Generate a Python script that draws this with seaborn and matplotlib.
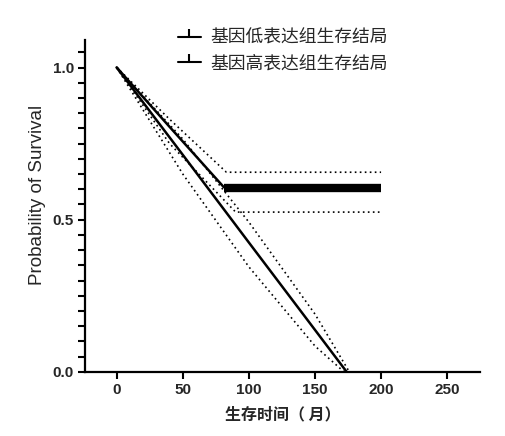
import numpy as np
import pandas as pd
import seaborn as sns
import matplotlib
matplotlib.use("Agg")
import matplotlib.pyplot as plt
from matplotlib.lines import Line2D
from matplotlib.ticker import MultipleLocator

# survival curves (time in months, survival fraction)
low_t = [0, 40, 81]
low_s = [1.0, 0.805, 0.607]
low_up_t = [0, 40, 83, 200]
low_up_s = [1.0, 0.83, 0.656, 0.656]
low_lo_t = [0, 40, 90, 200]
low_lo_s = [1.0, 0.75, 0.525, 0.525]
low_censor = [81, 200]          # span covered by censor ticks
low_censor_s = 0.605

high_t = [0, 50, 100, 150, 174]
high_s = [1.0, 0.713, 0.425, 0.138, 0.0]
high_up_t = [0, 50, 100, 150, 176]
high_up_s = [1.0, 0.765, 0.492, 0.19, 0.0]
high_lo_t = [0, 50, 100, 150, 172]
high_lo_s = [1.0, 0.65, 0.345, 0.085, 0.0]

labels = ["基因低表达组生存结局", "基因高表达组生存结局"]
xticks = [0, 50, 100, 150, 200, 250]
yticks = [0.0, 0.5, 1.0]

sns.set_style("ticks")
plt.rcParams['font.family'] = ['Liberation Sans', 'Noto Sans CJK SC', 'DejaVu Sans']

fig = plt.figure(figsize=(5.06, 4.36), dpi=100)
ax = fig.add_axes([0.168, 0.147, 0.781, 0.761])

dot = (0, (1, 2))
sns.lineplot(x=low_up_t, y=low_up_s, color='black', lw=1.2, linestyle=dot, ax=ax)
sns.lineplot(x=low_lo_t, y=low_lo_s, color='black', lw=1.2, linestyle=dot, ax=ax)
sns.lineplot(x=high_up_t, y=high_up_s, color='black', lw=1.2, linestyle=dot, ax=ax)
sns.lineplot(x=high_lo_t, y=high_lo_s, color='black', lw=1.2, linestyle=dot, ax=ax)
sns.lineplot(x=low_t, y=low_s, color='black', lw=1.8, ax=ax)
sns.lineplot(x=high_t, y=high_s, color='black', lw=1.8, ax=ax)
# dense censor ticks form a thick bar
sns.lineplot(x=low_censor, y=[low_censor_s] * 2, color='black', lw=6,
             solid_capstyle='butt', ax=ax)

ax.set_xlim(-24, 275)
ax.set_ylim(0, 1.09)
ax.set_xticks(xticks)
ax.set_yticks(yticks)
ax.set_yticklabels(["0.0", "0.5", "1.0"])
ax.yaxis.set_minor_locator(MultipleLocator(0.05))
for lab in ax.get_xticklabels() + ax.get_yticklabels():
    lab.set_fontweight('bold')
    lab.set_fontsize(11)
ax.tick_params(which='both', length=5, width=1.5, direction='out', color='black', pad=3)
for s in ['left', 'bottom']:
    ax.spines[s].set_linewidth(1.6)
    ax.spines[s].set_color('black')
sns.despine(ax=ax)

ax.set_xlabel("生存时间（ 月）", fontsize=11.5, fontweight='bold',
              family=['Noto Sans CJK SC', 'DejaVu Sans'], labelpad=7)
ax.set_ylabel("Probability of Survival", fontsize=13.5)
ax.yaxis.set_label_coords(-0.098, 0.533)

handles = [Line2D([], [], color='black', lw=1.5, marker=2, markersize=6,
                  markeredgewidth=1.5) for _ in labels]
fig.legend(handles, labels, loc='upper left', bbox_to_anchor=(0.32, 0.97),
           frameon=False, handlelength=1.3, handletextpad=0.55, labelspacing=0.4,
           prop={'family': 'Noto Sans CJK SC', 'size': 12.8})

fig.savefig("out.png", dpi=100)
